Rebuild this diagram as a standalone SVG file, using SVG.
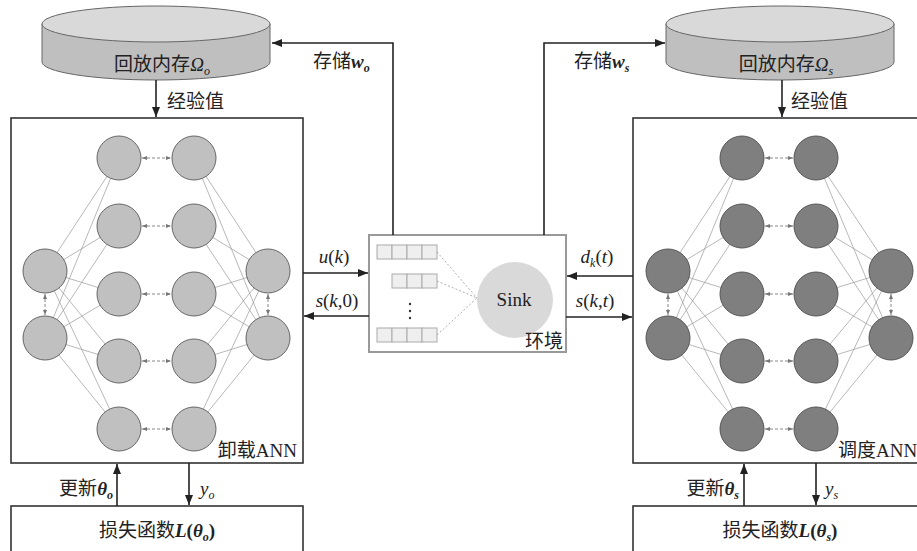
<svg xmlns="http://www.w3.org/2000/svg" width="917" height="551" viewBox="0 0 917 551">
<style>
.t{font-family:"Liberation Serif","Noto Sans CJK SC",serif;font-size:19px;fill:#222}
.i{font-style:italic}
.bi{font-style:italic;font-weight:bold}
.sub{font-size:12px}
.ln{fill:none;stroke:#222;stroke-width:1.6}
.box{fill:#fff;stroke:#333;stroke-width:1.6}
.conn{fill:none;stroke:#9a9a9a;stroke-width:0.7}
.da{fill:none;stroke:#888;stroke-width:1;stroke-dasharray:3 2}
.nl{fill:#c0c0c0;stroke:#666;stroke-width:1}
.nd{fill:#7f7f7f;stroke:#555;stroke-width:1}
.cyl{fill:#bfbfbf;stroke:#666;stroke-width:1}
.cyt{fill:#d9d9d9;stroke:#666;stroke-width:1}
.q{fill:#efefef;stroke:#aaa;stroke-width:1}
</style>
<defs>
<marker id="ah" markerWidth="10" markerHeight="8" refX="10" refY="4" orient="auto" markerUnits="userSpaceOnUse"><path d="M0,0L10,4L0,8z" fill="#222"/></marker>
<marker id="sa" markerWidth="5" markerHeight="4" refX="5" refY="2" orient="auto-start-reverse" markerUnits="userSpaceOnUse"><path d="M0,0L5,2L0,4z" fill="#777"/></marker>
</defs>

<g id="memory-o">
<path class="cyl" d="M42,24L42,62A114,18 0 0 0 270,62L270,24z"/>
<ellipse class="cyt" cx="156" cy="24" rx="114" ry="18"/>
<text class="t" x="162" y="71" text-anchor="middle">回放内存<tspan class="i">Ω</tspan><tspan class="i sub" dy="4">o</tspan></text>
</g>
<g id="memory-s">
<path class="cyl" d="M666,24L666,62A114,18 0 0 0 894,62L894,24z"/>
<ellipse class="cyt" cx="780" cy="24" rx="114" ry="18"/>
<text class="t" x="786" y="71" text-anchor="middle">回放内存<tspan class="i">Ω</tspan><tspan class="i sub" dy="4">s</tspan></text>
</g>

<g id="ann-o">
<rect class="box" x="11" y="118" width="292" height="345"/>
<path class="conn" d="M45 271L119 158M45 271L119 226M45 271L119 294M45 271L119 361M45 271L119 429M45 338L119 158M45 338L119 226M45 338L119 294M45 338L119 361M45 338L119 429M194 158L268 271M194 226L268 271M194 294L268 271M194 361L268 271M194 429L268 271M194 158L268 338M194 226L268 338M194 294L268 338M194 361L268 338M194 429L268 338"/>
<g class="nl">
<circle cx="45" cy="271" r="22"/><circle cx="45" cy="338" r="22"/>
<circle cx="119" cy="158" r="22"/><circle cx="119" cy="226" r="22"/><circle cx="119" cy="294" r="22"/><circle cx="119" cy="361" r="22"/><circle cx="119" cy="429" r="22"/>
<circle cx="194" cy="158" r="22"/><circle cx="194" cy="226" r="22"/><circle cx="194" cy="294" r="22"/><circle cx="194" cy="361" r="22"/><circle cx="194" cy="429" r="22"/>
<circle cx="268" cy="271" r="22"/><circle cx="268" cy="338" r="22"/>
</g>
<g class="da" marker-start="url(#sa)" marker-end="url(#sa)">
<path d="M142 158L171 158"/><path d="M142 226L171 226"/><path d="M142 294L171 294"/><path d="M142 361L171 361"/><path d="M142 429L171 429"/>
<path d="M45 294L45 315"/><path d="M268 294L268 315"/>
</g>
<text class="t" x="297" y="457" text-anchor="end">卸载ANN</text>
</g>

<g id="ann-s">
<rect class="box" x="633" y="118" width="300" height="345"/>
<path class="conn" d="M668 271L742 158M668 271L742 226M668 271L742 294M668 271L742 361M668 271L742 429M668 338L742 158M668 338L742 226M668 338L742 294M668 338L742 361M668 338L742 429M816 158L891 271M816 226L891 271M816 294L891 271M816 361L891 271M816 429L891 271M816 158L891 338M816 226L891 338M816 294L891 338M816 361L891 338M816 429L891 338"/>
<g class="nd">
<circle cx="668" cy="271" r="22"/><circle cx="668" cy="338" r="22"/>
<circle cx="742" cy="158" r="22"/><circle cx="742" cy="226" r="22"/><circle cx="742" cy="294" r="22"/><circle cx="742" cy="361" r="22"/><circle cx="742" cy="429" r="22"/>
<circle cx="816" cy="158" r="22"/><circle cx="816" cy="226" r="22"/><circle cx="816" cy="294" r="22"/><circle cx="816" cy="361" r="22"/><circle cx="816" cy="429" r="22"/>
<circle cx="891" cy="271" r="22"/><circle cx="891" cy="338" r="22"/>
</g>
<g class="da" marker-start="url(#sa)" marker-end="url(#sa)">
<path d="M765 158L793 158"/><path d="M765 226L793 226"/><path d="M765 294L793 294"/><path d="M765 361L793 361"/><path d="M765 429L793 429"/>
<path d="M668 294L668 315"/><path d="M891 294L891 315"/>
</g>
<text class="t" x="838" y="457">调度ANN</text>
</g>

<g id="environment">
<rect x="369" y="235" width="197" height="117" fill="#fff" stroke="#999" stroke-width="2"/>
<g class="q">
<rect x="377" y="245" width="15" height="14"/><rect x="392" y="245" width="15" height="14"/><rect x="407" y="245" width="15" height="14"/><rect x="422" y="245" width="15" height="14"/>
<rect x="392" y="274" width="15" height="14"/><rect x="407" y="274" width="15" height="14"/><rect x="422" y="274" width="15" height="14"/>
<rect x="377" y="328" width="15" height="14"/><rect x="392" y="328" width="15" height="14"/><rect x="407" y="328" width="15" height="14"/><rect x="422" y="328" width="15" height="14"/>
</g>
<path d="M437 252L477 298M437 281L477 298M437 335L477 298" fill="none" stroke="#999" stroke-width="0.8" stroke-dasharray="2 2"/>
<g fill="#333"><circle cx="410" cy="304" r="1.2"/><circle cx="410" cy="311" r="1.2"/><circle cx="410" cy="318" r="1.2"/></g>
<circle cx="515" cy="300" r="38" fill="#d9d9d9"/>
<text class="t" x="514" y="306" text-anchor="middle" font-size="20">Sink</text>
<text class="t" x="563" y="348" text-anchor="end">环境</text>
</g>

<g id="loss-o">
<rect class="box" x="11" y="506" width="292" height="60"/>
<text class="t" x="157" y="537" text-anchor="middle">损失函数<tspan class="bi">L</tspan><tspan font-weight="bold">(</tspan><tspan class="bi">θ</tspan><tspan class="bi sub" dy="4">o</tspan><tspan font-weight="bold" dy="-4">)</tspan></text>
</g>
<g id="loss-s">
<rect class="box" x="633" y="506" width="300" height="60"/>
<text class="t" x="780" y="537" text-anchor="middle">损失函数<tspan class="bi">L</tspan><tspan font-weight="bold">(</tspan><tspan class="bi">θ</tspan><tspan class="bi sub" dy="4">s</tspan><tspan font-weight="bold" dy="-4">)</tspan></text>
</g>

<g id="connectors">
<path class="ln" d="M393,235L393,43L272,43" marker-end="url(#ah)"/>
<path class="ln" d="M544,235L544,43L665,43" marker-end="url(#ah)"/>
<path class="ln" d="M156,80L156,117" marker-end="url(#ah)"/>
<path class="ln" d="M782,80L782,117" marker-end="url(#ah)"/>
<path class="ln" d="M303,273L368,273" marker-end="url(#ah)"/>
<path class="ln" d="M369,316L304,316" marker-end="url(#ah)"/>
<path class="ln" d="M633,276L567,276" marker-end="url(#ah)"/>
<path class="ln" d="M566,317L632,317" marker-end="url(#ah)"/>
<path class="ln" d="M117,506L117,464" marker-end="url(#ah)"/>
<path class="ln" d="M189,463L189,505" marker-end="url(#ah)"/>
<path class="ln" d="M744,506L744,464" marker-end="url(#ah)"/>
<path class="ln" d="M816,463L816,505" marker-end="url(#ah)"/>
<text class="t" x="313" y="68">存储<tspan class="bi">w</tspan><tspan class="bi sub" dy="4">o</tspan></text>
<text class="t" x="574" y="68">存储<tspan class="bi">w</tspan><tspan class="bi sub" dy="4">s</tspan></text>
<text class="t" x="167" y="108">经验值</text>
<text class="t" x="791" y="108">经验值</text>
<text class="t" x="334" y="263" text-anchor="middle"><tspan class="i">u</tspan>(<tspan class="i">k</tspan>)</text>
<text class="t" x="337" y="307" text-anchor="middle"><tspan class="i">s</tspan>(<tspan class="i">k</tspan>,0)</text>
<text class="t" x="597" y="263" text-anchor="middle"><tspan class="i">d</tspan><tspan class="i sub" dy="4">k</tspan><tspan dy="-4">(</tspan><tspan class="i">t</tspan>)</text>
<text class="t" x="595" y="307" text-anchor="middle"><tspan class="i">s</tspan>(<tspan class="i">k</tspan>,<tspan class="i">t</tspan>)</text>
<text class="t" x="113" y="495" text-anchor="end">更新<tspan class="bi">θ</tspan><tspan class="bi sub" dy="4">o</tspan></text>
<text class="t" x="739" y="495" text-anchor="end">更新<tspan class="bi">θ</tspan><tspan class="bi sub" dy="4">s</tspan></text>
<text class="t" x="200" y="495"><tspan class="i">y</tspan><tspan class="i sub" dy="4">o</tspan></text>
<text class="t" x="825" y="495"><tspan class="i">y</tspan><tspan class="i sub" dy="4">s</tspan></text>
</g>
</svg>
